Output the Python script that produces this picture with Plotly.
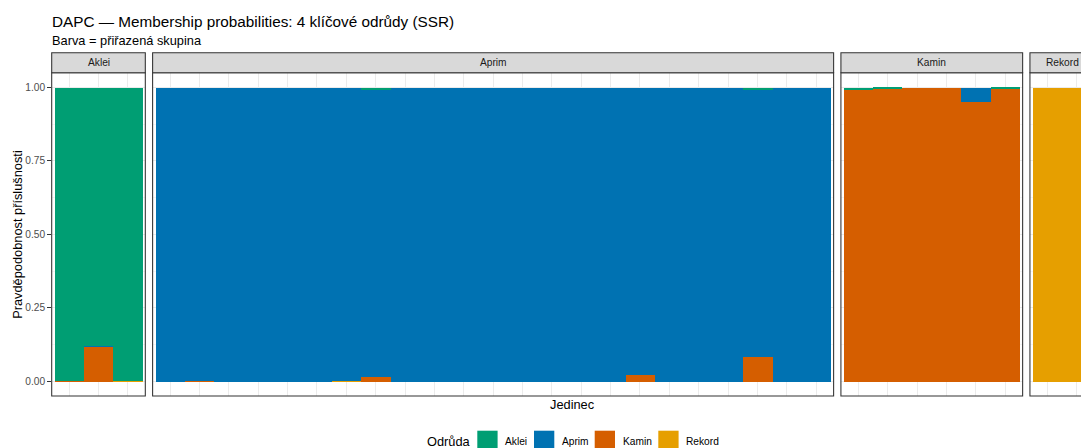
import plotly.graph_objects as go

# ---------------- data ----------------
groups = ["Aklei", "Aprim", "Kamin", "Rekord"]
group_colors = ["#009E73", "#0072B2", "#D55E00", "#E69F00"]
panels = ["Aklei", "Aprim", "Kamin", "Rekord"]

# Aklei panel (3 individuals)
aklei_aklei = [0.997, 0.878, 0.997]
aklei_aprim = [0.000, 0.004, 0.000]
aklei_kamin = [0.003, 0.118, 0.000]
aklei_rekord = [0.000, 0.000, 0.003]

# Aprim panel (23 individuals)
aprim_aklei = [0, 0, 0, 0, 0, 0, 0, 0.005, 0, 0, 0, 0, 0, 0, 0, 0, 0, 0, 0, 0, 0.005, 0, 0]
aprim_aprim = [1.000, 0.997, 1.000, 1.000, 1.000, 1.000, 0.997, 0.978, 1.000, 1.000, 1.000, 1.000,
               1.000, 1.000, 1.000, 1.000, 0.976, 1.000, 1.000, 1.000, 0.912, 1.000, 1.000]
aprim_kamin = [0, 0.003, 0, 0, 0, 0, 0, 0.017, 0, 0, 0, 0, 0, 0, 0, 0, 0.024, 0, 0, 0, 0.083, 0, 0]
aprim_rekord = [0, 0, 0, 0, 0, 0, 0.003, 0, 0, 0, 0, 0, 0, 0, 0, 0, 0, 0, 0, 0, 0, 0, 0]

# Kamin panel (6 individuals)
kamin_aklei = [0.007, 0.002, 0.000, 0.000, 0.000, 0.002]
kamin_aprim = [0.000, 0.000, 0.000, 0.000, 0.048, 0.000]
kamin_kamin = [0.993, 0.998, 1.000, 1.000, 0.952, 0.998]
kamin_rekord = [0.000, 0.000, 0.000, 0.000, 0.000, 0.000]

# Rekord panel (2 individuals)
rekord_aklei = [0.0, 0.0]
rekord_aprim = [0.0, 0.0]
rekord_kamin = [0.0, 0.0]
rekord_rekord = [1.0, 1.0]

y_tick_vals = [0.00, 0.25, 0.50, 0.75, 1.00]

title_text = "DAPC — Membership probabilities: 4 klíčové odrůdy (SSR)"
subtitle_text = "Barva = přiřazená skupina"
x_title = "Jedinec"
y_title = "Pravděpodobnost příslušnosti"
legend_title = "Odrůda"

# ---------------- assemble ----------------
panel_data = {
    "Aklei": [aklei_aklei, aklei_aprim, aklei_kamin, aklei_rekord],
    "Aprim": [aprim_aklei, aprim_aprim, aprim_kamin, aprim_rekord],
    "Kamin": [kamin_aklei, kamin_aprim, kamin_kamin, kamin_rekord],
    "Rekord": [rekord_aklei, rekord_aprim, rekord_kamin, rekord_rekord],
}

W, H = 1081, 448
FONT = "Liberation Sans, Arial, Helvetica, sans-serif"
FS_TITLE, FS_BASE, FS_SMALL = 15.3, 12.8, 10.2
ANN_PAD = 2.0  # plotly annotation inner padding (px)


def fx(px):
    return px / W


def fy(py):
    return 1 - py / H


unit = 29.37      # px per individual
pad = 2.75        # px expansion each side
gap = 7.3         # px between panels
left0 = 51.7
panel_top, panel_bot = 72.7, 396.0
strip_top = 52.7
pad_units = pad / unit

fig = go.Figure()
shapes = []
annotations = []
layout_axes = {}

x_left = left0
for pi, pname in enumerate(panels):
    vals = panel_data[pname]
    n = len(vals[0])
    width_px = n * unit + 2 * pad
    x_right = x_left + width_px
    dom_right = min(x_right, W)
    xa = "x" if pi == 0 else f"x{pi + 1}"
    ya = "y" if pi == 0 else f"y{pi + 1}"
    xkey = "xaxis" if pi == 0 else f"xaxis{pi + 1}"
    ykey = "yaxis" if pi == 0 else f"yaxis{pi + 1}"
    r0 = -0.5 - pad_units
    r1 = r0 + (dom_right - x_left) / unit
    layout_axes[xkey] = dict(
        domain=[fx(x_left), fx(dom_right)], range=[r0, r1], anchor=ya,
        tickvals=list(range(n)), showticklabels=False, ticks="",
        showgrid=True, gridcolor="#EBEBEB", gridwidth=1.07,
        zeroline=False, showline=False, fixedrange=True,
    )
    layout_axes[ykey] = dict(
        domain=[fy(panel_bot), fy(panel_top)], range=[-0.05, 1.05], anchor=xa,
        tickvals=y_tick_vals, showgrid=True, gridcolor="#EBEBEB", gridwidth=1.07,
        zeroline=False, showline=False, fixedrange=True,
        showticklabels=(pi == 0), ticks="outside" if pi == 0 else "",
        ticklen=3.6, tickwidth=1.07, tickcolor="#333333",
        tickformat=".2f", tickfont=dict(family=FONT, size=FS_SMALL, color="#4D4D4D"),
        minor=dict(tickvals=[0.125, 0.375, 0.625, 0.875], showgrid=True,
                   gridcolor="#F5F5F5", gridwidth=0.5, ticks=""),
    )
    # stacked bars: bottom to top = Rekord, Kamin, Aprim, Aklei
    for gi in [3, 2, 1, 0]:
        fig.add_trace(go.Bar(
            x=list(range(n)), y=vals[gi], width=1.0,
            marker=dict(color=group_colors[gi], line=dict(width=0)),
            name=groups[gi], showlegend=False, xaxis=xa, yaxis=ya,
            hovertemplate=f"{pname} #%{{x}}<br>{groups[gi]}: %{{y:.3f}}<extra></extra>",
        ))
    # panel border
    shapes.append(dict(type="rect", xref="paper", yref="paper",
                       x0=fx(x_left), x1=fx(x_right), y0=fy(panel_bot), y1=fy(panel_top),
                       line=dict(color="#333333", width=1.07), fillcolor="rgba(0,0,0,0)",
                       layer="above"))
    # strip
    shapes.append(dict(type="rect", xref="paper", yref="paper",
                       x0=fx(x_left), x1=fx(x_right), y0=fy(panel_top), y1=fy(strip_top),
                       line=dict(color="#333333", width=1.07), fillcolor="#D9D9D9",
                       layer="above"))
    annotations.append(dict(text=pname, xref="paper", yref="paper",
                            x=fx((x_left + x_right) / 2), y=fy((strip_top + panel_top) / 2),
                            xanchor="center", yanchor="middle", showarrow=False,
                            font=dict(family=FONT, size=FS_SMALL, color="#1A1A1A")))
    x_left = x_right + gap

panels_right = x_left - gap
panels_center = (left0 + panels_right) / 2

# titles
annotations.append(dict(text=title_text, xref="paper", yref="paper", x=fx(51.7 - ANN_PAD), y=fy(21),
                        xanchor="left", yanchor="middle", showarrow=False,
                        font=dict(family=FONT, size=FS_TITLE, color="#000000")))
annotations.append(dict(text=subtitle_text, xref="paper", yref="paper", x=fx(51.7 - ANN_PAD), y=fy(40.3),
                        xanchor="left", yanchor="middle", showarrow=False,
                        font=dict(family=FONT, size=FS_BASE, color="#000000")))
annotations.append(dict(text=x_title, xref="paper", yref="paper", x=fx(panels_center), y=fy(404.5),
                        xanchor="center", yanchor="middle", showarrow=False,
                        font=dict(family=FONT, size=FS_BASE, color="#000000")))
annotations.append(dict(text=y_title, xref="paper", yref="paper", x=fx(17.5),
                        y=fy((panel_top + panel_bot) / 2), textangle=-90,
                        xanchor="center", yanchor="middle", showarrow=False,
                        font=dict(family=FONT, size=FS_BASE, color="#000000")))

# manual legend (ggplot-style, bottom, centred on panel area)
legend_y_mid = 441.5
key_w, key_h = 20.3, 20.3
key_lefts = [477.3, 534.0, 594.7, 658.3]
text_gap = 7.6
annotations.append(dict(text=legend_title, xref="paper", yref="paper", x=fx(427.3 - ANN_PAD),
                        y=fy(legend_y_mid), xanchor="left", yanchor="middle", showarrow=False,
                        font=dict(family=FONT, size=FS_BASE, color="#000000")))
for gi, g in enumerate(groups):
    kl = key_lefts[gi]
    shapes.append(dict(type="rect", xref="paper", yref="paper",
                       x0=fx(kl), x1=fx(kl + key_w), y0=fy(430.7 + key_h), y1=fy(430.7),
                       line=dict(width=0), fillcolor=group_colors[gi], layer="above"))
    annotations.append(dict(text=g, xref="paper", yref="paper", x=fx(kl + key_w + text_gap - ANN_PAD),
                            y=fy(legend_y_mid), xanchor="left", yanchor="middle", showarrow=False,
                            font=dict(family=FONT, size=FS_SMALL, color="#000000")))

fig.update_layout(
    width=W, height=H, autosize=False,
    margin=dict(l=0, r=0, t=0, b=0, pad=0),
    paper_bgcolor="#FFFFFF", plot_bgcolor="#FFFFFF",
    barmode="stack", bargap=0, bargroupgap=0,
    showlegend=False,
    shapes=shapes, annotations=annotations,
    font=dict(family=FONT, size=FS_BASE, color="#000000"),
    **layout_axes,
)

fig.write_html("out.html")
